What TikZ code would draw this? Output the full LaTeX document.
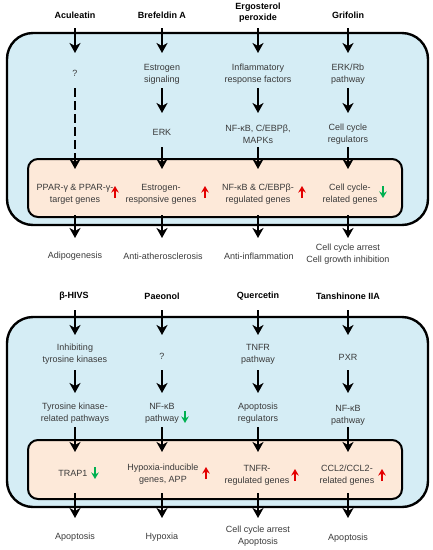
\documentclass[tikz,border=0pt]{standalone}
\usepackage{fontspec}
\setmainfont{Liberation Sans}
\usetikzlibrary{arrows.meta}
\definecolor{cellblue}{HTML}{D5EDF5}
\definecolor{nucpeach}{HTML}{FDE9D9}
\definecolor{txtgray}{HTML}{3A3A3A}
\definecolor{upred}{HTML}{E30000}
\definecolor{dngreen}{HTML}{00B050}
\begin{document}
\begin{tikzpicture}[x=1pt,y=-1pt,
  ttl/.style={font=\fontsize{9}{11}\selectfont\bfseries, align=center, inner sep=0pt},
  lbl/.style={font=\fontsize{9}{12}\selectfont, text=txtgray, align=center, inner sep=0pt},
  arr/.style={line width=2.2pt, -{Stealth[width=11pt,length=10pt,inset=3pt]}},
  darr/.style={arr, dash pattern=on 9pt off 4pt},
  cellbox/.style={draw, line width=2.4pt, fill=cellblue, rounded corners=26pt},
  nucbox/.style={draw, line width=2pt, fill=nucpeach, rounded corners=10pt},
  upar/.style={draw=upred, line width=1.7pt, -{Stealth[width=7.5pt,length=6.5pt,inset=2pt]}},
  dnar/.style={draw=dngreen, line width=1.7pt, -{Stealth[width=7.5pt,length=6.5pt,inset=2pt]}}
]
\useasboundingbox (0,0) rectangle (432,550);

% ---------- Top panel boxes ----------
\path[cellbox] (7,33) rectangle (428,225);
\path[nucbox] (28,159) rectangle (402,217);

% ---------- Bottom panel boxes ----------
\path[cellbox] (7,317) rectangle (428,507);
\path[nucbox] (28,440) rectangle (402,499);

% ---------- Top panel nodes ----------
\node[ttl] (A0) at (75,15) {Aculeatin};
\node[ttl] (B0) at (162,15) {Brefeldin A};
\node[ttl] (C0) at (258,12.5) {Ergosterol\\peroxide};
\node[ttl] (D0) at (348,15) {Grifolin};

\node[lbl] (A1) at (75,73) {?};
\node[lbl] (B1) at (162,74) {Estrogen\\signaling};
\node[lbl] (C1) at (258,74) {Inflammatory\\response factors};
\node[lbl] (D1) at (348,74) {ERK/Rb\\pathway};

\node[lbl] (B2) at (162,132) {ERK};
\node[lbl] (C2) at (258,134) {NF-κB, C/EBPβ,\\MAPKs};
\node[lbl] (D2) at (348,134) {Cell cycle\\regulators};

\node[lbl] (A3) at (75,194) {PPAR-γ \& PPAR-γ-\\target genes};
\node[lbl] (B3) at (161,194) {Estrogen-\\responsive genes};
\node[lbl] (C3) at (258,194) {NF-κB \& C/EBPβ-\\regulated genes};
\node[lbl] (D3) at (350,194) {Cell cycle-\\related genes};

\node[lbl] (A4) at (75,256) {Adipogenesis};
\node[lbl] (B4) at (163,256) {Anti-atherosclerosis};
\node[lbl] (C4) at (259,256) {Anti-inflammation};
\node[lbl] (D4) at (348,254) {Cell cycle arrest\\Cell growth inhibition};

% ---------- Top panel arrows ----------
\draw[arr, shorten <=13pt, shorten >=20pt] (A0.center) -- (A0.center |- A1.center);
\draw[darr, shorten <=15pt, shorten >=25pt] (A1.center) -- (A1.center |- A3.center);
\draw[arr, shorten <=21pt, shorten >=18pt] (A3.center) -- (A3.center |- A4.center);

\draw[arr, shorten <=13pt, shorten >=21pt] (B0.center) -- (B0.center |- B1.center);
\draw[arr, shorten <=14pt, shorten >=19pt] (B1.center) -- (B1.center |- B2.center);
\draw[arr, shorten <=15pt, shorten >=25pt] (B2.center) -- (B2.center |- B3.center);
\draw[arr, shorten <=21pt, shorten >=18pt] (B2.center |- B3.center) -- (B2.center |- B4.center);

\draw[arr, shorten <=15.5pt, shorten >=21pt] (C0.center) -- (C0.center |- C1.center);
\draw[arr, shorten <=14pt, shorten >=21pt] (C1.center) -- (C1.center |- C2.center);
\draw[arr, shorten <=13pt, shorten >=25pt] (C2.center) -- (C2.center |- C3.center);
\draw[arr, shorten <=21pt, shorten >=18pt] (C3.center) -- (C3.center |- C4.center);

\draw[arr, shorten <=13pt, shorten >=21pt] (D0.center) -- (D0.center |- D1.center);
\draw[arr, shorten <=14pt, shorten >=21pt] (D1.center) -- (D1.center |- D2.center);
\draw[arr, shorten <=13pt, shorten >=25pt] (D2.center) -- (D2.center |- D3.center);
\draw[arr, shorten <=21pt, shorten >=16pt] (D2.center |- D3.center) -- (D2.center |- D4.center);

% indicator arrows (top)
\draw[upar] (115,198) -- (115,186);
\draw[upar] (205,198) -- (205,186);
\draw[upar] (302,198) -- (302,186);
\draw[dnar] (383,186) -- (383,198);

% ---------- Bottom panel nodes ----------
\node[ttl] (E0) at (74,296) {β-HIVS};
\node[ttl] (F0) at (162,296) {Paeonol};
\node[ttl] (G0) at (258,296) {Quercetin};
\node[ttl] (H0) at (348,296) {Tanshinone IIA};

\node[lbl] (E1) at (75,354.5) {Inhibiting\\tyrosine kinases};
\node[lbl] (F1) at (162,356) {?};
\node[lbl] (G1) at (258,354.5) {TNFR\\pathway};
\node[lbl] (H1) at (348,357) {PXR};

\node[lbl] (E2) at (75,413) {Tyrosine kinase-\\related pathways};
\node[lbl] (F2) at (162,413) {NF-κB\\pathway};
\node[lbl] (G2) at (258,413) {Apoptosis\\regulators};
\node[lbl] (H2) at (348,415) {NF-κB\\pathway};

\node[lbl] (E3) at (73,473) {TRAP1};
\node[lbl] (F3) at (163,474) {Hypoxia-inducible\\genes, APP};
\node[lbl] (G3) at (257,475) {TNFR-\\regulated genes};
\node[lbl] (H3) at (347,475.5) {CCL2/CCL2-\\related genes};

\node[lbl] (E4) at (75,537) {Apoptosis};
\node[lbl] (F4) at (162,537) {Hypoxia};
\node[lbl] (G4) at (258,536) {Cell cycle arrest\\Apoptosis};
\node[lbl] (H4) at (348,538) {Apoptosis};

% ---------- Bottom panel arrows ----------
\draw[arr, shorten <=14pt, shorten >=19.5pt] (E1.center |- E0.center) -- (E1.center);
\draw[arr, shorten <=15.5pt, shorten >=20pt] (E1.center) -- (E1.center |- E2.center);
\draw[arr, shorten <=14pt, shorten >=21pt] (E2.center) -- (E2.center |- E3.center);
\draw[arr, shorten <=20pt, shorten >=19pt] (E2.center |- E3.center) -- (E2.center |- E4.center);

\draw[arr, shorten <=14pt, shorten >=21pt] (F0.center) -- (F0.center |- F1.center);
\draw[arr, shorten <=14pt, shorten >=20pt] (F1.center) -- (F1.center |- F2.center);
\draw[arr, shorten <=14pt, shorten >=22pt] (F2.center) -- (F2.center |- F3.center);
\draw[arr, shorten <=19pt, shorten >=19pt] (F2.center |- F3.center) -- (F2.center |- F4.center);

\draw[arr, shorten <=14pt, shorten >=19.5pt] (G0.center) -- (G0.center |- G1.center);
\draw[arr, shorten <=15.5pt, shorten >=20pt] (G1.center) -- (G1.center |- G2.center);
\draw[arr, shorten <=14pt, shorten >=23pt] (G2.center) -- (G2.center |- G3.center);
\draw[arr, shorten <=18pt, shorten >=18pt] (G2.center |- G3.center) -- (G2.center |- G4.center);

\draw[arr, shorten <=14pt, shorten >=22pt] (H0.center) -- (H0.center |- H1.center);
\draw[arr, shorten <=13pt, shorten >=22pt] (H1.center) -- (H1.center |- H2.center);
\draw[arr, shorten <=12pt, shorten >=23.5pt] (H2.center) -- (H2.center |- H3.center);
\draw[arr, shorten <=17.5pt, shorten >=20pt] (H2.center |- H3.center) -- (H2.center |- H4.center);

% indicator arrows (bottom)
\draw[dnar] (95,467) -- (95,479);
\draw[dnar] (185,411) -- (185,423);
\draw[upar] (206,479) -- (206,467);
\draw[upar] (295,481) -- (295,469);
\draw[upar] (382,481) -- (382,469);
\end{tikzpicture}
\end{document}
